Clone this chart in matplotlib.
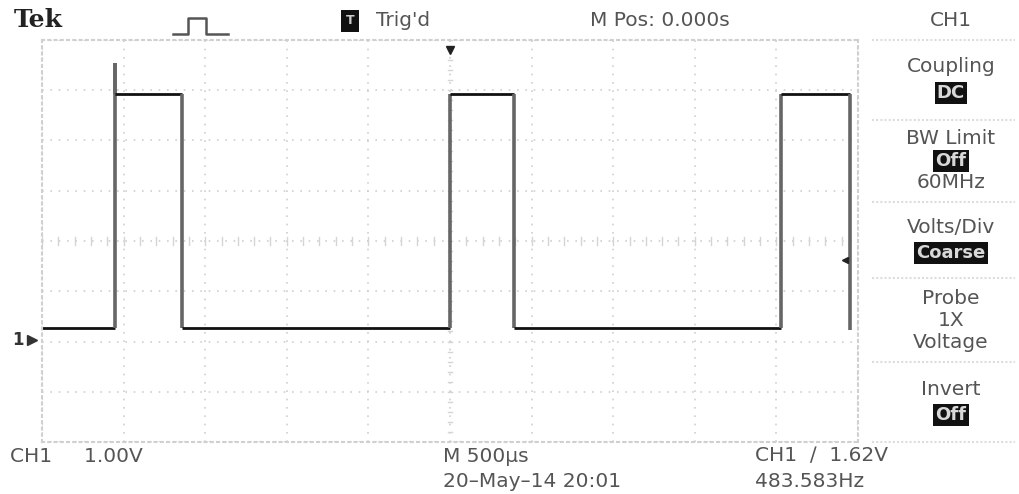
import numpy as np
import matplotlib.pyplot as plt
from matplotlib.lines import Line2D

# waveform vertices (time in ms, volts)
t_ms = [-2.50, -2.05, -2.05, -2.05, -2.05, -1.64, -1.64, 0.00, 0.00, 0.39, 0.39, 2.03, 2.03, 2.45, 2.45]
volts = [0.27, 0.27, 5.55, 5.55, 4.93, 4.93, 0.27, 0.27, 4.93, 4.93, 0.27, 0.27, 4.93, 4.93, 0.22]

menu_title = 'CH1'
menu_items = [('Coupling', ['DC'], []),
              ('BW Limit', ['Off'], ['60MHz']),
              ('Volts/Div', ['Coarse'], []),
              ('Probe', [], ['1X', 'Voltage']),
              ('Invert', ['Off'], [])]

W, H = 1019, 494
fig = plt.figure(figsize=(W / 100, H / 100), dpi=100)
fig.patch.set_facecolor('white')

def fx(x):
    return x / W

def fy(y):
    return 1 - y / H

ax = fig.add_axes([fx(42), fy(442), fx(858) - fx(42), fy(40) - fy(442)])
ax.set_xlim(-2.5, 2.5)
ax.set_ylim(-2.0, 6.0)
ax.set_xticks(np.arange(-2.5, 2.51, 0.5))
ax.set_yticks(np.arange(-2, 6.01, 1))
ax.tick_params(length=0, labelbottom=False, labelleft=False)
ax.grid(True, linestyle=(0, (1, 4)), color='#cfcfcf', linewidth=1.2)
for s in ax.spines.values():
    s.set_linestyle((0, (1, 2)))
    s.set_color('#d0d0d0')
    s.set_linewidth(1.5)
# minor ticks on the centre lines
for xm in np.arange(-2.5, 2.51, 0.1):
    ax.plot([xm, xm], [1.93, 2.07], color='#d5d5d5', lw=1)
for ym in np.arange(-2, 6.01, 0.2):
    ax.plot([-0.01, 0.01], [ym, ym], color='#d5d5d5', lw=1)

# trace: verticals grey, flats black
for i in range(len(t_ms) - 1):
    vertical = t_ms[i] == t_ms[i + 1]
    ax.plot(t_ms[i:i + 2], volts[i:i + 2],
            color='#666666' if vertical else '#111111',
            lw=2.6 if vertical else 2.0, solid_capstyle='butt')

# trigger markers
ax.plot(0, 5.8, marker='v', color='#222222', markersize=6, clip_on=False)
ax.plot(2.42, 1.62, marker='<', color='#222222', markersize=5, clip_on=False)

txt = dict(color='#555555', fontsize=14.5, family='DejaVu Sans')
fig.text(fx(14), fy(20), 'Tek', fontsize=18, fontweight='bold', family='DejaVu Serif',
         color='#222222', va='center')
fig.add_artist(Line2D([fx(173), fx(188), fx(188), fx(206), fx(206), fx(228)],
                      [fy(34), fy(34), fy(18), fy(18), fy(34), fy(34)],
                      color='#555555', lw=1.8))
fig.text(fx(350), fy(21), 'T', ha='center', va='center', fontsize=9, color='#cccccc',
         fontweight='bold', bbox=dict(boxstyle='square,pad=0.35', fc='#111111', ec='none'))
fig.text(fx(376), fy(20), "Trig'd", va='center', **txt)
fig.text(fx(590), fy(20), 'M Pos: 0.000s', va='center', **txt)
fig.text(fx(951), fy(20), menu_title, va='center', ha='center', **txt)
fig.text(fx(12), fy(340), '1', va='center', color='#333333', fontsize=12, fontweight='bold')
fig.add_artist(Line2D([fx(32)], [fy(340)], marker='>', color='#333333', markersize=7))

fig.text(fx(10), fy(456), 'CH1     1.00V', va='center', **txt)
fig.text(fx(443), fy(456), 'M 500\u00b5s', va='center', **txt)
fig.text(fx(443), fy(481), '20\u2013May\u201314 20:01', va='center', **txt)
fig.text(fx(755), fy(456), 'CH1  \u2215  1.62V', va='center', **txt)
fig.text(fx(755), fy(481), '483.583Hz', va='center', **txt)

# right hand menu
sep_y = [40, 120, 202, 278, 362, 442]
for y in sep_y:
    fig.add_artist(Line2D([fx(872), fx(1015)], [fy(y), fy(y)], color='#dddddd',
                          lw=1.5, linestyle=(0, (1, 1))))
cx = fx(951)
for k, (label, boxes, plain) in enumerate(menu_items):
    y0 = sep_y[k]
    y1 = sep_y[k + 1]
    lines = [(label, False)] + [(b, True) for b in boxes] + [(p, False) for p in plain]
    step = 22 if len(lines) == 3 else 26
    start = (y0 + y1) / 2 - step * (len(lines) - 1) / 2
    for j, (s, boxed) in enumerate(lines):
        yy = fy(start + j * step)
        if boxed:
            fig.text(cx, yy, s, ha='center', va='center', fontsize=13, color='#d8d8d8',
                     fontweight='bold',
                     bbox=dict(boxstyle='square,pad=0.12', fc='#111111', ec='none'))
        else:
            fig.text(cx, yy, s, ha='center', va='center', **txt)

fig.savefig('out.png', dpi=100, facecolor='white')
